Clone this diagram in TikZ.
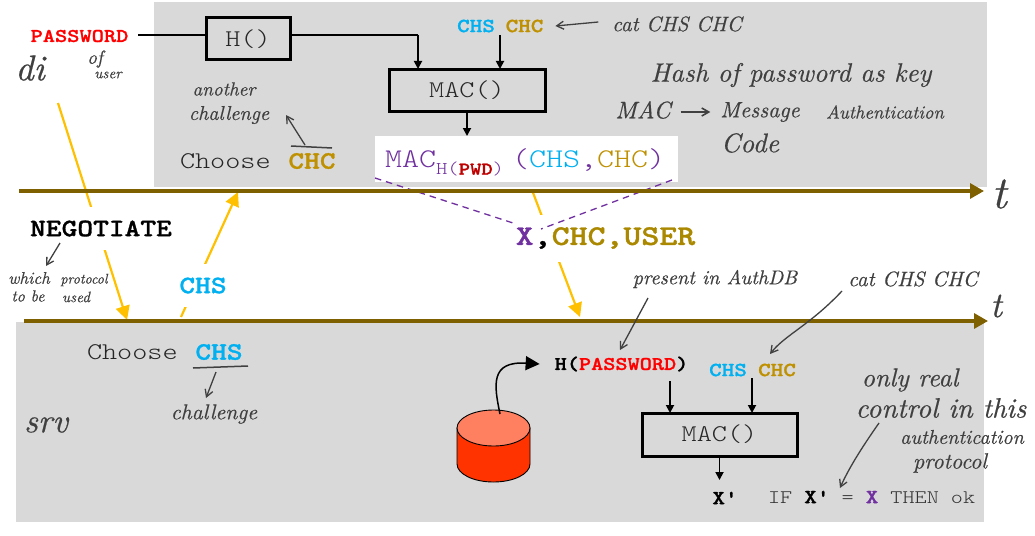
\documentclass[tikz,border=0pt]{standalone}
\usepackage{fontspec}
\usetikzlibrary{arrows.meta,shapes.geometric,calc}
\newfontfamily\courr[FakeStretch=1.2]{lmmonolt10-regular.otf}
\newfontfamily\courb[FakeStretch=1.2,FakeBold=1.2]{lmmonolt10-bold.otf}
\newfontfamily\handf[FakeBold=0.5]{lmroman10-italic.otf}
\definecolor{gbg}{HTML}{D9D9D9}
\definecolor{brn}{HTML}{7F6000}
\definecolor{ylw}{HTML}{FFC000}
\definecolor{pur}{HTML}{7030A0}
\definecolor{blu}{HTML}{00B0F0}
\definecolor{gld}{HTML}{BF9000}
\definecolor{gld2}{HTML}{AA8800}
\definecolor{hnd}{HTML}{404040}
\definecolor{dbbody}{HTML}{FF3300}
\definecolor{dbtop}{HTML}{FF8060}
\newcommand{\tr}[1]{\courr\fontsize{#1}{#1}\selectfont}
\newcommand{\tb}[1]{\courb\fontsize{#1}{#1}\selectfont}
\newcommand{\hw}[1]{\handf\fontsize{#1}{#1}\selectfont}
\tikzset{
  txt/.style={inner sep=0pt,outer sep=0pt,anchor=center},
  hand/.style={txt,text=hnd},
  fnbox/.style={draw=black,line width=3pt,inner sep=0pt,outer sep=0pt,minimum height=42pt},
  arr/.style={black,line width=1.8pt,-{Triangle[length=8pt,width=8pt]}},
  harr/.style={hnd,line width=1.3pt,-{Straight Barb[length=7pt,width=8pt]}},
  hline/.style={hnd,line width=1.5pt},
  timeline/.style={brn,line width=3.2pt,-{Triangle[length=14pt,width=15pt]}},
  msg/.style={ylw,line width=2.2pt},
  msgarr/.style={msg,-{Triangle[length=14pt,width=14pt]}},
  dashline/.style={pur,line width=1.3pt,dash pattern=on 6.5pt off 5pt},
  gap/.style={txt,fill=white,minimum height=43pt},
}
\begin{document}
\begin{tikzpicture}[x=1pt,y=-1pt]
\useasboundingbox (0,0) rectangle (1035,535);
% backgrounds
\fill[gbg] (154,2) rectangle (987,187);
\fill[gbg] (16,322) rectangle (984,522);
\node[fill=white,inner sep=0pt,outer sep=0pt,minimum width=303pt,minimum height=46pt] (res) at (526.5,159) {};
% free ends
\coordinate (c1) at (58,103);
\coordinate (c2) at (127,320);
\coordinate (c3) at (181,317);
\coordinate (c4) at (238,192);
\coordinate (c5) at (532,190);
\coordinate (c6) at (580,317);
\coordinate (d1) at (375,178);
\coordinate (d2) at (672,180);
\coordinate (d3) at (513,223);
\coordinate (d4) at (541,229);
\coordinate (t1a) at (19,191);
\coordinate (t1b) at (984,191);
\coordinate (t2a) at (24,321);
\coordinate (t2b) at (988,321);
% messages (broken by their labels)
\draw[msgarr] (c1) -- (c2);
\draw[msgarr] (c3) -- (c4);
\draw[msgarr] (c5) -- (c6);
% message labels
\node[gap,text=black,font=\tb{25}] (neg) at (101,228.5) {NEGOTIATE};
\node[gap,text=blu,font=\tb{25}] (chsm) at (203,285.5) {CHS};
\node[gap,minimum height=47pt,font=\tb{28.5}] (xmsg) at (605.5,238) {\textcolor{pur}{X}\textcolor{black}{,}\textcolor{gld2}{CHC,USER}};
\draw[dashline] (d1) -- (d3);
\draw[dashline] (d2) -- (d4);
% time lines
\draw[timeline] (t1a) -- (t1b);
\draw[timeline] (t2a) -- (t2b);
% client side
\node[txt,text=red,font=\tb{19.4}] (pw) at (79.5,36) {PASSWORD};
\node[fnbox,minimum width=84pt,text=black!85,font=\tr{24}] (h) at (248,39) {H()};
\node[fnbox,minimum width=156pt,text=black!85,font=\tr{24}] (mac1) at (467,90) {MAC()};
\node[txt,text=blu,font=\tb{20}] (chs1) at (476,26) {CHS};
\node[txt,text=gld,font=\tb{20}] (chc1) at (524.5,26) {CHC};
\coordinate (j1) at (418,35);
\coordinate (j2) at (500,35);
\draw[black,line width=1.8pt] (138,35) -- (h.west |- j1);
\draw[black,line width=1.8pt] (h.east |- j1) -- (j1);
\draw[arr] (j1) -- (j1 |- mac1.north);
\draw[arr] (j2) -- (j2 |- mac1.north);
\draw[arr] (mac1.south) -- (mac1.south |- res.north);
\node[txt,anchor=west] (mactxt) at (385,162.5) {\tr{27}\textcolor{pur}{MAC}\raisebox{-7pt}{\tr{18}\textcolor{pur}{H(}\tb{18}\textcolor{red!75!black}{PWD}\tr{18}\textcolor{pur}{)}}\hspace{8pt}\tr{27}\textcolor{pur}{(}\textcolor{blu}{CHS}\textcolor{pur}{,}\textcolor{gld}{CHC}\textcolor{pur}{)}};
\node[txt,anchor=west,text=black!85,font=\tr{24}] (ch1) at (180,161) {Choose};
\node[txt,text=gld,font=\tb{25}] (chc2) at (312,161) {CHC};
% server side
\node[txt,anchor=west,text=black!85,font=\tr{24}] (ch2) at (87,352) {Choose};
\node[txt,text=blu,font=\tb{25}] (chs2) at (219,352) {CHS};
\node[txt,font=\tb{19.3}] (hpw) at (621.5,364) {H(\textcolor{red}{PASSWORD})};
\node[txt,text=blu,font=\tb{20}] (chs3) at (728,370) {CHS};
\node[txt,text=gld,font=\tb{20}] (chc3) at (777,370) {CHC};
\node[fnbox,minimum width=155pt,minimum height=43pt,text=black!85,font=\tr{24}] (mac2) at (719.5,434.5) {MAC()};
\node[txt,font=\tb{20}] (xp) at (725,498) {X'};
\node[txt,anchor=west,text=black!80,font=\tr{19.2}] (ifn) at (768,497) {IF \textcolor{black}{\tb{20}X'} = \textcolor{pur}{\tb{20}X} THEN ok};
\coordinate (a1) at (670,381);
\coordinate (a2) at (752,378);
\coordinate (a3) at (719.5,480);
\draw[arr] (a1) -- (a1 |- mac2.north);
\draw[arr] (a2) -- (a2 |- mac2.north);
\draw[arr] (mac2.south) -- (a3);
% database
\filldraw[fill=dbbody,draw=black,line width=0.9pt] (457,428) -- (457,464) arc[start angle=180,end angle=360,x radius=36.5pt,y radius=18pt] -- (530,428) -- cycle;
\node[ellipse,fill=dbtop,draw=black,line width=0.9pt,inner sep=0pt,outer sep=0pt,minimum width=73pt,minimum height=36pt] (db) at (493.5,428) {};
\draw[black,line width=1.5pt,-{Triangle[length=14pt,width=14pt]}] ([xshift=6.5pt,yshift=-4pt]db.north) .. controls (494,385) and (490,361) .. ([xshift=-15pt]hpw.west);
% handwritten notes
\node[hand,font=\hw{36}] (di) at (30,68) {di};
\node[hand,font=\hw{19}] (of) at (95,59) {of};
\node[hand,font=\hw{15}] (usr) at (108,75) {user};
\node[hand,font=\hw{19}] (an) at (224,89) {another};
\node[hand,font=\hw{20}] (ch) at (229,115) {challenge};
\draw[harr] (305,145) -- (286,115);
\draw[hline] (291,146) -- (332,148);
\node[hand,font=\hw{21}] (cat1) at (677,24) {cat CHS CHC};
\draw[harr] ([xshift=-14pt,yshift=2pt]cat1.west) -- ([xshift=12pt]chc1.east);
\node[hand,font=\hw{26.5}] (hk) at (791,75) {Hash of password as key};
\node[hand,font=\hw{24}] (mc) at (643,110) {MAC};
\node[hand,font=\hw{22}] (mg) at (760,112) {Message};
\node[hand,font=\hw{18.5}] (au) at (885,112) {Authentication};
\node[hand,font=\hw{27}] (cd) at (750,143) {Code};
\draw[harr,line width=1.6pt] ([xshift=10pt,yshift=-2pt]mc.east) -- ([xshift=-10pt]mg.west);
\node[hand,font=\hw{46}] (t1) at (999,194) {t};
\node[hand,font=\hw{36}] (t2) at (996,306) {t};
\node[hand,font=\hw{17}] (w1) at (29,278) {which};
\node[hand,font=\hw{14}] (w2) at (84,280) {protocol};
\node[hand,font=\hw{16}] (w3) at (28,296) {to be};
\node[hand,font=\hw{15}] (w4) at (76,297) {used};
\draw[harr] (60,243) -- (46,266);
\node[hand,font=\hw{21.5}] (ch3) at (214,414) {challenge};
\draw[hline] (193,368) -- (248,366);
\draw[harr] (216,372) -- (206,398);
\node[hand,font=\hw{34}] (srv) at (46,425) {srv};
\node[hand,font=\hw{20}] (pr) at (715,279) {present in AuthDB};
\draw[harr] (648,298) -- (620,350);
\node[hand,font=\hw{21}] (cat2) at (913,279) {cat CHS CHC};
\draw[harr] (842,291) .. controls (810,325) and (785,335) .. (770,354);
\node[hand,font=\hw{26}] (on) at (910,380) {only real};
\node[hand,font=\hw{28}] (ct) at (941,408) {control in this};
\node[hand,font=\hw{20}] (at) at (962,437) {authentication};
\node[hand,font=\hw{22}] (pt) at (950,463) {protocol};
\draw[harr] (879,423) .. controls (860,450) and (848,470) .. (840,488);
\end{tikzpicture}
\end{document}
